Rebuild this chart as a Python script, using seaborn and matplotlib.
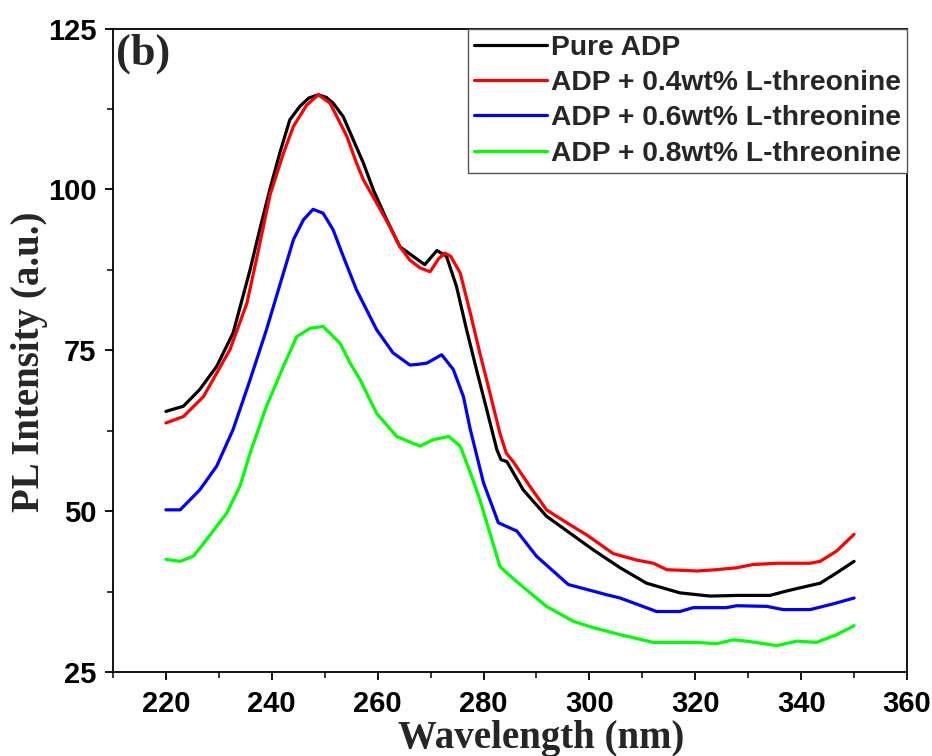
import numpy as np
import pandas as pd
import matplotlib
matplotlib.use("Agg")
import matplotlib.pyplot as plt
import seaborn as sns
from matplotlib.ticker import MultipleLocator

# ---------------- data ----------------
labels = ["Pure ADP",
          "ADP + 0.4wt% L-threonine",
          "ADP + 0.6wt% L-threonine",
          "ADP + 0.8wt% L-threonine"]
colors = ["#000000", "#FF0000", "#0000FF", "#00FF00"]

wl_pure = [220, 223.3, 226.4, 229.6, 232.7, 235.9, 237.8, 239.7, 241.6, 243.4, 245.3, 247, 248.8,
           250.3, 251.6, 253.5, 255.4, 257.3, 259.2, 261.7, 264.2, 266.7, 268.9, 271.2, 273, 274.9,
           276.8, 278.7, 280.6, 282.5, 283.3, 284.4, 287.5, 291.9, 296.3, 300.7, 305.8, 310.8, 317.1,
           322.8, 328, 334.1, 337.3, 340.4, 343.6, 346.7, 350]
pl_pure = [65.5, 66.3, 68.9, 72.5, 77.7, 87.5, 94, 100.2, 105.9, 110.8, 112.9, 114.2, 114.7,
           114.3, 113.4, 111.3, 107.7, 104.1, 99.9, 95.3, 91.1, 89.6, 88.3, 90.5, 89.6, 84.9,
           78.2, 71.9, 65.8, 59.6, 58.0, 57.7, 53.3, 49.2, 46.6, 44.0, 41.2, 38.8, 37.3,
           36.8, 36.9, 36.9, 37.6, 38.2, 38.8, 40.4, 42.2]

wl_04 = [220, 223.3, 227.1, 232.1, 235.3, 237.1, 239.7, 242.2, 244.1, 246.6, 248.8, 251, 252.3,
         254.2, 256, 257.3, 259.8, 262.3, 264.2, 266.1, 268, 269.9, 271.5, 272.7, 273.8, 275.6,
         277.5, 279.3, 281.2, 283.1, 284.3, 285.6, 288.8, 291.9, 296.3, 299.5, 304.5, 308.9, 312.1,
         314.6, 320.3, 324, 327.8, 330.9, 335.4, 341.7, 343.6, 346.7, 350]
pl_04 = [63.7, 64.7, 67.8, 75.1, 82.3, 89.1, 99.2, 105.6, 109.8, 113.1, 114.7, 113.4, 111.3,
         108.2, 104.1, 101.5, 97.9, 94.2, 91.1, 89.0, 87.8, 87.2, 89.2, 90.1, 89.6, 87.0,
         80.8, 74.6, 68.4, 62.1, 59.0, 57.7, 53.8, 50.2, 47.9, 46.3, 43.4, 42.4, 41.9,
         40.9, 40.7, 40.9, 41.2, 41.7, 41.9, 41.9, 42.2, 43.8, 46.4]

wl_06 = [220, 222.7, 226.4, 229.6, 232.7, 235.9, 239, 242.2, 244.1, 246, 247.8, 249.7, 251.6,
         253.5, 256, 259.8, 262.9, 266.1, 267.5, 269.3, 272.1, 274.3, 276.2, 277.5, 280, 282.8,
         286.3, 290, 296, 303.3, 305.8, 312.7, 317.1, 319.6, 325.9, 327.8, 333.5, 336.6, 341.7,
         346.1, 350]
pl_06 = [50.2, 50.2, 53.3, 57.0, 62.7, 70.4, 78.2, 87.0, 92.2, 95.3, 96.9, 96.3, 93.7,
         89.6, 84.4, 78.2, 74.6, 72.7, 72.8, 73.0, 74.3, 72.0, 67.8, 62.7, 54.4, 48.2,
         46.9, 43.0, 38.6, 37.0, 36.5, 34.4, 34.4, 35.0, 35.0, 35.3, 35.2, 34.7, 34.7,
         35.6, 36.5]

wl_08 = [220, 222.7, 225.2, 227.7, 231.5, 234, 235.9, 239, 242.2, 244.7, 247.2, 249.7, 252.9,
         254.8, 256.7, 259.8, 263.6, 268, 270.5, 273.4, 275.6, 277.5, 279.3, 281.2, 283.1, 284.4,
         286.9, 290, 291.9, 296.9, 300.7, 305.8, 312.1, 320.3, 324, 327.2, 329.7, 335.4, 339.2,
         342.9, 346.7, 350]
pl_08 = [42.5, 42.2, 43.0, 45.6, 49.7, 53.9, 59.0, 66.3, 72.5, 77.1, 78.4, 78.7, 76.1,
         73.0, 70.4, 65.2, 61.6, 60.1, 61.1, 61.6, 60.1, 56.0, 51.8, 46.6, 41.4, 40.4,
         38.6, 36.5, 35.2, 32.9, 31.9, 30.8, 29.6, 29.6, 29.4, 30.0, 29.8, 29.1, 29.8,
         29.6, 30.8, 32.2]

x_ticks = [220, 240, 260, 280, 300, 320, 340, 360]
y_ticks = [25, 50, 75, 100, 125]

# ---------------- build long-form table ----------------
frames = []
for lab, wl, pl in zip(labels, [wl_pure, wl_04, wl_06, wl_08], [pl_pure, pl_04, pl_06, pl_08]):
    frames.append(pd.DataFrame({"Wavelength": wl, "PL": pl, "Sample": lab}))
df = pd.concat(frames, ignore_index=True)

# ---------------- style ----------------
sns.set_style("ticks")
plt.rcParams["font.family"] = ["Liberation Sans", "DejaVu Sans"]
serif = ["Liberation Serif", "DejaVu Serif"]

fig = plt.figure(figsize=(9.32, 7.56), dpi=100)
ax = fig.add_axes([0.1212, 0.1111, 0.8520, 0.8512])

sns.lineplot(data=df, x="Wavelength", y="PL", hue="Sample", hue_order=labels,
             palette=colors, linewidth=2.3, estimator=None, sort=False, ax=ax)

ax.set_xlim(210, 360)
ax.set_ylim(25, 125)
ax.set_xticks(x_ticks)
ax.set_yticks(y_ticks)
ax.xaxis.set_minor_locator(MultipleLocator(10))
ax.yaxis.set_minor_locator(MultipleLocator(12.5))

for sp in ax.spines.values():
    sp.set_visible(True)
    sp.set_linewidth(1.3)
    sp.set_color("black")

ax.tick_params(axis="both", which="major", direction="out", length=6, width=1.3,
               labelsize=21, colors="black")
ax.tick_params(axis="x", which="major", pad=7)
ax.tick_params(axis="y", which="major", pad=6)
ax.tick_params(axis="both", which="minor", direction="out", length=4, width=1.3)
for lbl in ax.get_xticklabels() + ax.get_yticklabels():
    lbl.set_fontweight("bold")

ax.set_xlabel("Wavelength (nm)", fontsize=28, fontweight="bold", family=serif)
ax.xaxis.set_label_coords(0.539, -0.075)
ax.xaxis.label.set_va("top")
ax.set_ylabel("PL Intensity (a.u.)", fontsize=28, fontweight="bold", family=serif)
ax.yaxis.set_label_coords(-0.1045, 0.482)
ax.yaxis.label.set_va("center")

ax.text(0.004, 0.992, "(b)", transform=ax.transAxes, ha="left", va="top",
        fontsize=32, fontweight="bold", family=serif)

leg = ax.legend(loc="upper right", borderaxespad=0, frameon=True, fancybox=False,
                framealpha=1, edgecolor="#555555", handlelength=2.6, handletextpad=0.12,
                labelspacing=0.33, borderpad=0.22, prop={"size": 20.3, "weight": "bold"})
leg.get_frame().set_linewidth(1.0)
for h in leg.get_lines():
    h.set_linewidth(2.3)

fig.savefig("out.png", dpi=100)
